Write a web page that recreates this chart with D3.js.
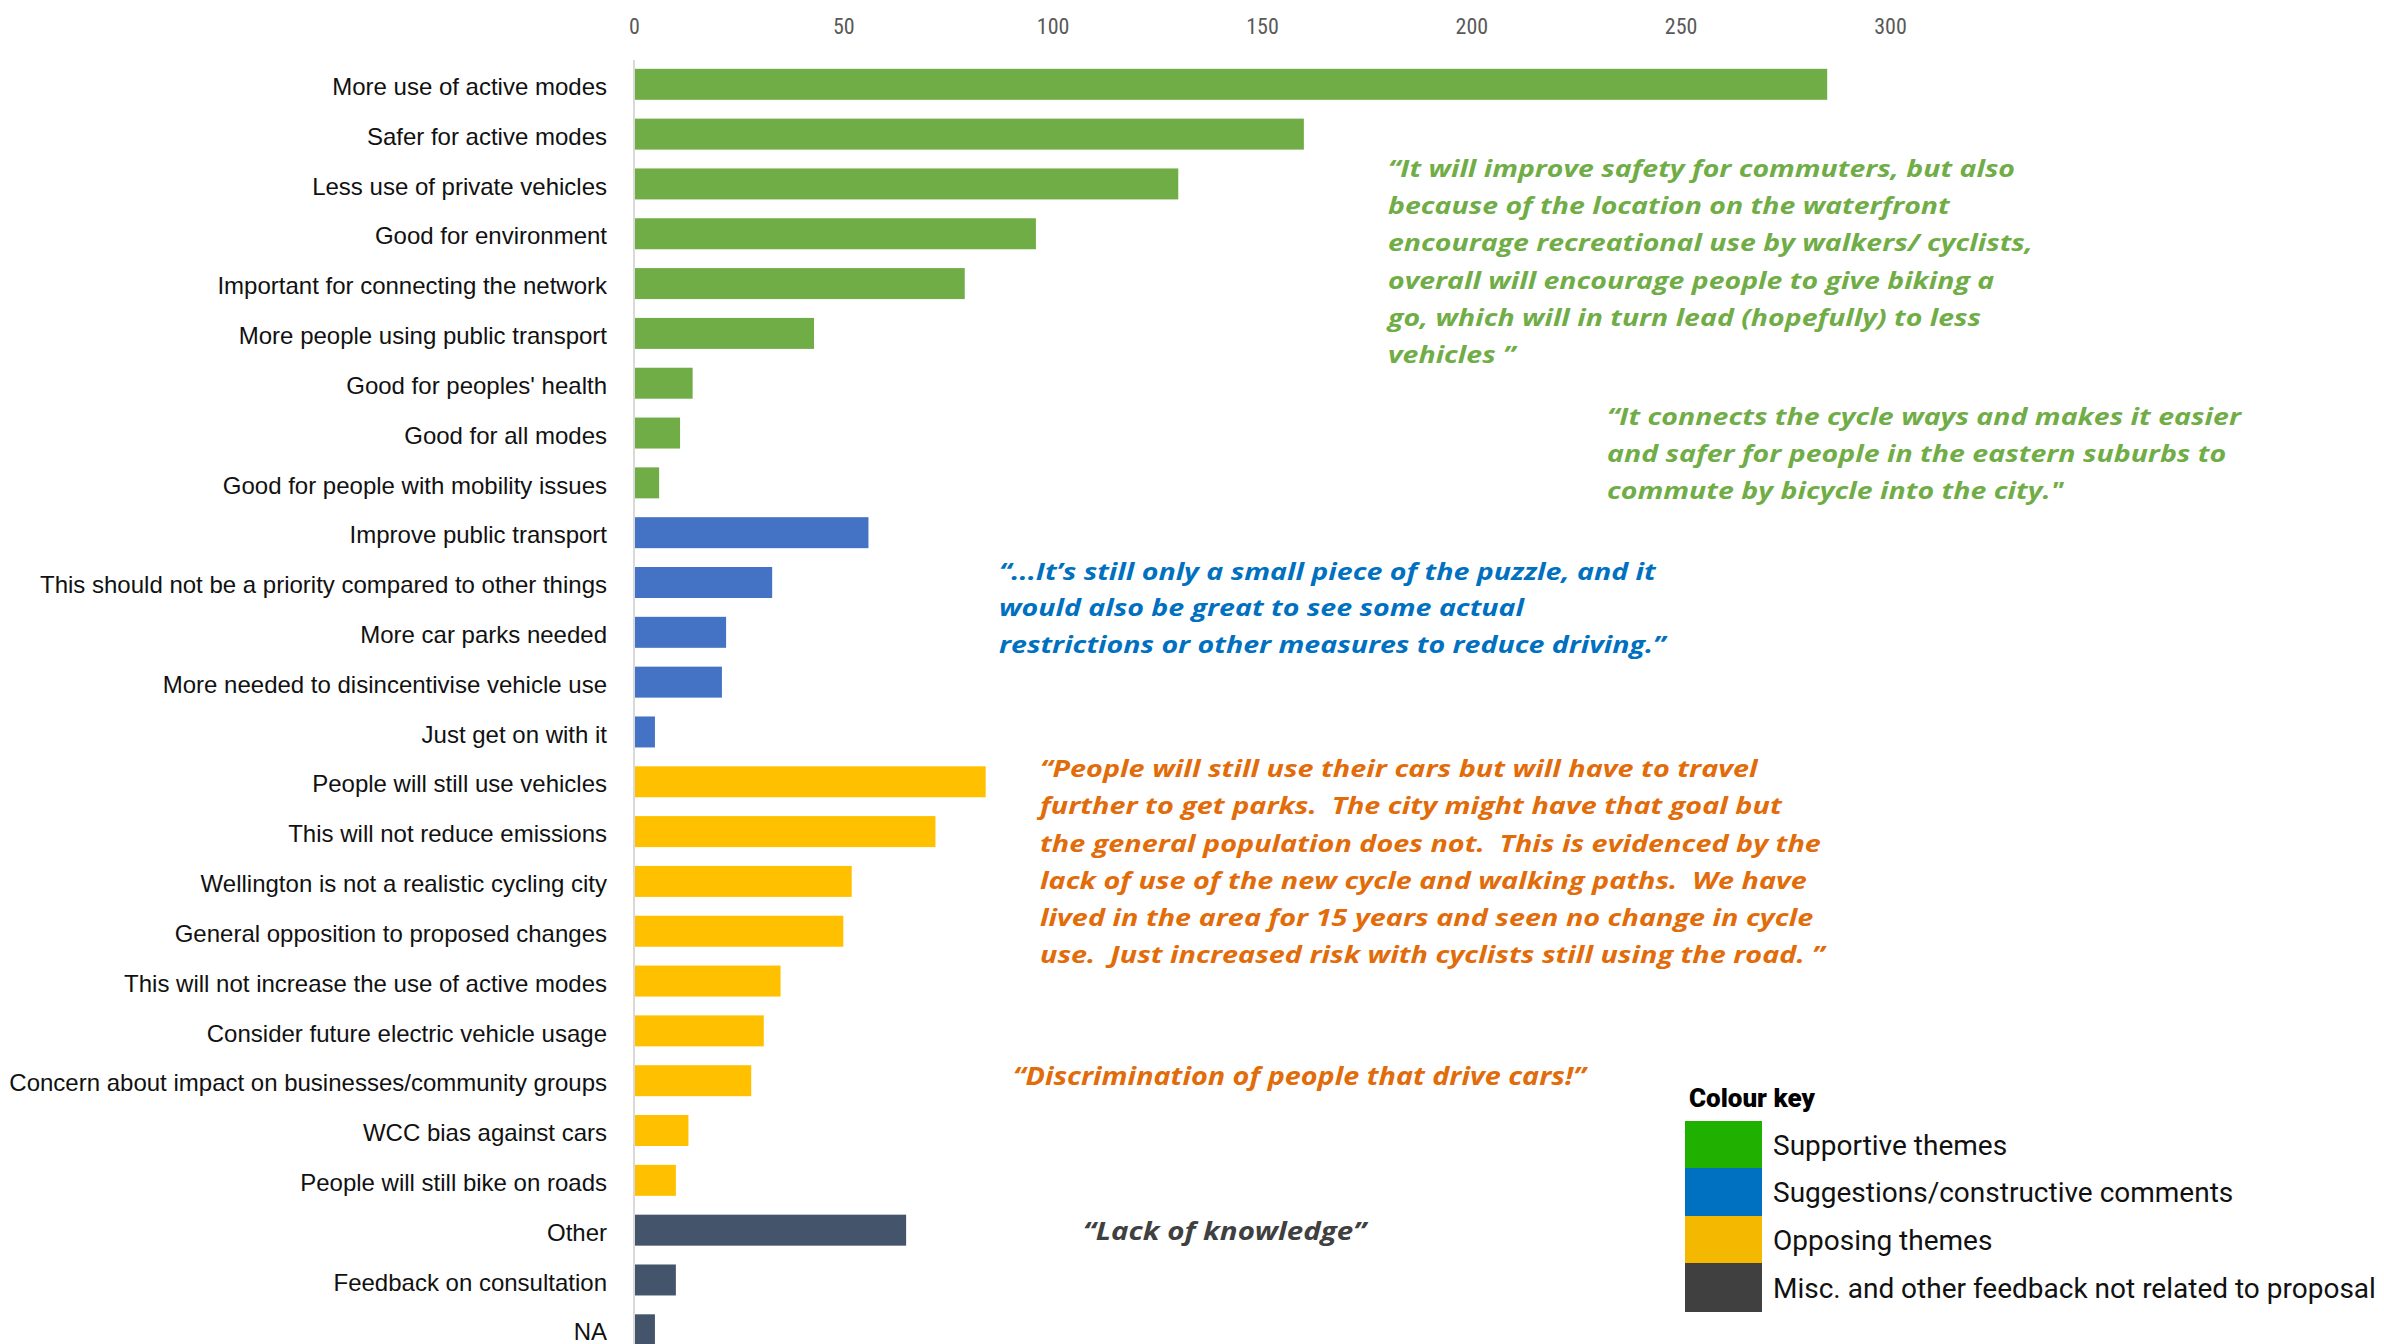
<!DOCTYPE html>
<html><head><meta charset="utf-8">
<script src="https://cdn.jsdelivr.net/npm/d3@7"></script>
<style>
html,body{margin:0;padding:0;background:#fff;}
svg{display:block;}
.q{font-family:"Open Sans",Lato,sans-serif;font-weight:700;font-style:italic;white-space:pre;}
</style></head>
<body><svg id="c" width="2384" height="1344"></svg>
<script>
const categories = [
 "More use of active modes","Safer for active modes","Less use of private vehicles","Good for environment",
 "Important for connecting the network","More people using public transport","Good for peoples' health",
 "Good for all modes","Good for people with mobility issues","Improve public transport",
 "This should not be a priority compared to other things","More car parks needed",
 "More needed to disincentivise vehicle use","Just get on with it","People will still use vehicles",
 "This will not reduce emissions","Wellington is not a realistic cycling city","General opposition to proposed changes",
 "This will not increase the use of active modes","Consider future electric vehicle usage",
 "Concern about impact on businesses/community groups","WCC bias against cars","People will still bike on roads",
 "Other","Feedback on consultation","NA"];
const values = [285,160,130,96,79,43,14,11,6,56,33,22,21,5,84,72,52,50,35,31,28,13,10,65,10,5];
const groups = ["sup","sup","sup","sup","sup","sup","sup","sup","sup",
 "sug","sug","sug","sug","sug",
 "opp","opp","opp","opp","opp","opp","opp","opp","opp",
 "misc","misc","misc"];
const tickValues = [0,50,100,150,200,250,300];
const groupKeys = ["sup","sug","opp","misc"];
const barColors = ["#70AD47","#4472C4","#FFC000","#44546A"];
const legendLabels = ["Supportive themes","Suggestions/constructive comments","Opposing themes","Misc. and other feedback not related to proposal"];
const legendColors = ["#1FB000","#0070C0","#F5B800","#404040"];
const quotes = [
 {color:"#70AD47", lines:["“It will improve safety for commuters, but also","because of the location on the waterfront","encourage recreational use by walkers/ cyclists,","overall will encourage people to give biking a","go, which will in turn lead (hopefully) to less","vehicles ”"]},
 {color:"#70AD47", lines:["“It connects the cycle ways and makes it easier","and safer for people in the eastern suburbs to","commute by bicycle into the city.\""]},
 {color:"#0070C0", lines:["“...It’s still only a small piece of the puzzle, and it","would also be great to see some actual","restrictions or other measures to reduce driving.”"]},
 {color:"#E26B0A", lines:["“People will still use their cars but will have to travel","further to get parks.  The city might have that goal but","the general population does not.  This is evidenced by the","lack of use of the new cycle and walking paths.  We have","lived in the area for 15 years and seen no change in cycle","use.  Just increased risk with cyclists still using the road. ”"]},
 {color:"#E26B0A", lines:["“Discrimination of people that drive cars!”"]},
 {color:"#404040", lines:["“Lack of knowledge”"]}
];
// layout (positions / sizes only): x, first baseline, line step, font size, target width of widest line
const quotePos = [
 {x:1388,y:177,dy:37.2,fs:24,w:645},
 {x:1607,y:425,dy:37,fs:24,w:634},
 {x:999,y:580,dy:36.5,fs:24,w:667},
 {x:1040,y:777,dy:37.3,fs:24,w:785},
 {x:1013,y:1085,dy:0,fs:25,w:573},
 {x:1083,y:1240,dy:0,fs:25,w:283}
];

const svg = d3.select("#c");
const x = d3.scaleLinear().domain([0,300]).range([634,1890]);
const step = 49.82;
const y = d3.scaleBand().domain(categories).range([84.3-step/2,84.3+25.5*step]).paddingInner(0.378).paddingOuter(0.189);
const color = d3.scaleOrdinal().domain(groupKeys).range(barColors);

// top axis tick labels
const xAxis = d3.axisTop(x).tickValues(tickValues).tickSize(0).tickPadding(0);
const gx = svg.append("g").attr("transform","translate(0,34)").call(xAxis);
gx.select(".domain").remove();
gx.selectAll("text").attr("font-family","'Liberation Sans Narrow','Roboto Condensed','Liberation Sans',sans-serif")
  .attr("font-size",22).attr("fill","#595959");

// bars
svg.append("g").selectAll("rect").data(categories).join("rect")
 .attr("x",x(0)+1).attr("y",d=>y(d)).attr("height",y.bandwidth())
 .attr("width",(d,i)=>x(values[i])-x(0)-1)
 .attr("fill",(d,i)=>color(groups[i]));

// y axis line + labels
const yAxis = d3.axisLeft(y).tickSize(0).tickPadding(27);
const gy = svg.append("g").attr("transform",`translate(${x(0)},3)`).call(yAxis);
gy.select(".domain").remove();
svg.append("line").attr("x1",x(0)).attr("x2",x(0)).attr("y1",60).attr("y2",1344)
 .attr("stroke","#D9D9D9").attr("stroke-width",2);
gy.selectAll("text").attr("font-family","'Liberation Sans',Arial,sans-serif").attr("font-size",24).attr("fill","#111");

// quotes
quotes.forEach((q,i)=>{
 const p = quotePos[i];
 const g = svg.append("g");
 const t = g.append("text").attr("class","q").attr("fill",q.color).attr("font-size",p.fs);
 const spans = q.lines.map((l,j)=>t.append("tspan").attr("x",0).attr("y",j*p.dy).text(l));
 const maxW = d3.max(spans, s=>s.node().getComputedTextLength());
 const k = p.w / maxW;
 g.attr("transform",`translate(${p.x},${p.y}) scale(${k},1)`);
});

// legend
const lg = svg.append("g");
lg.append("text").attr("x",1689).attr("y",1107).text("Colour key")
 .attr("font-family","Roboto,'Liberation Sans',sans-serif").attr("font-weight",900).attr("font-size",26).attr("fill","#000");
const ly = [1121,1168,1216,1263];
const lh = [47,48,47,49];
legendLabels.forEach((l,i)=>{
 lg.append("rect").attr("x",1685).attr("y",ly[i]).attr("width",77).attr("height",lh[i]).attr("fill",legendColors[i]);
 lg.append("text").attr("x",1773).attr("y",ly[i]+lh[i]/2+10).text(l)
  .attr("font-family","Roboto,'Liberation Sans',sans-serif").attr("font-size",28).attr("fill","#111");
});
</script></body></html>
